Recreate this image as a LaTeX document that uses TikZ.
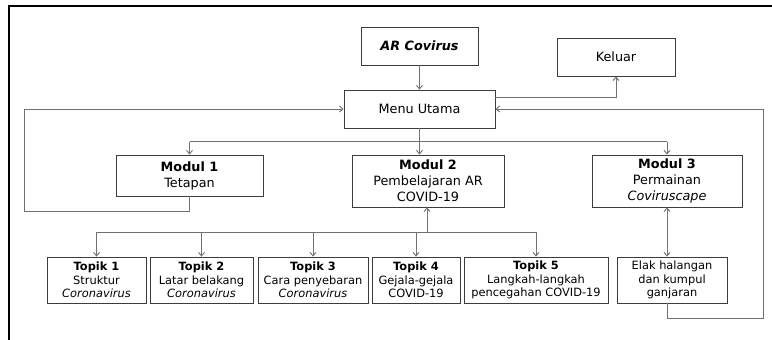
\documentclass[tikz,border=0pt]{standalone}
\usepackage{fontspec}
\setmainfont{DejaVu Sans}
\usetikzlibrary{arrows.meta}
\definecolor{boxgray}{HTML}{3C3C3C}
\definecolor{linkgray}{HTML}{707070}
\tikzset{
  box/.style={draw=boxgray, line width=0.9pt, fill=white, align=center, inner sep=0pt},
  modfont/.style={font=\fontsize{12.8}{16}\selectfont},
  topfont/.style={font=\fontsize{11.4}{13.6}\selectfont},
  link/.style={draw=linkgray, line width=0.9pt},
  conn/.style={link, -{Straight Barb[length=3.5pt,width=6pt]}},
  conntwo/.style={link, {Straight Barb[length=3.5pt,width=6pt]}-{Straight Barb[length=3.5pt,width=6pt]}}
}
\begin{document}
\begin{tikzpicture}[x=1pt,y=-1pt]
\useasboundingbox (0,0) rectangle (772,340);
% outer frame (top and left sides)
\draw[line width=2pt, black] (9,340) -- (9,6) -- (772,6);

% top level
\node[box, modfont, minimum width=117pt, minimum height=38pt] (ar) at (419.5,46) {\textbf{\textit{AR Covirus}}};
\node[box, modfont, minimum width=118pt, minimum height=38pt] (keluar) at (616,57) {Keluar};
\node[box, modfont, minimum width=151pt, minimum height=38pt] (menu) at (419.5,109) {Menu Utama};

% modules
\node[box, modfont, minimum width=147pt, minimum height=41pt] (m1) at (189.5,175.5) {\textbf{Modul 1}\\Tetapan};
\node[box, modfont, minimum width=152pt, minimum height=52pt] (m2) at (428,181) {\textbf{Modul 2}\\Pembelajaran AR\\COVID-19};
\node[box, modfont, minimum width=150pt, minimum height=52pt] (m3) at (667,181) {\textbf{Modul 3}\\Permainan\\\textit{Coviruscape}};

% topics
\node[box, topfont, minimum width=99pt, minimum height=46pt] (t1) at (96.5,280) {\textbf{Topik 1}\\Struktur\\\textit{Coronavirus}};
\node[box, topfont, minimum width=103pt, minimum height=46pt] (t2) at (201.5,280) {\textbf{Topik 2}\\Latar belakang\\\textit{Coronavirus}};
\node[box, topfont, minimum width=110pt, minimum height=46pt] (t3) at (313,280) {\textbf{Topik 3}\\Cara penyebaran\\\textit{Coronavirus}};
\node[box, topfont, minimum width=88pt, minimum height=46pt] (t4) at (416,280) {\textbf{Topik 4}\\Gejala-gejala\\COVID-19};
\node[box, topfont, minimum width=144pt, minimum height=46pt] (t5) at (536,280) {\textbf{Topik 5}\\Langkah-langkah\\pencegahan COVID-19};
\node[box, topfont, minimum width=110pt, minimum height=46pt] (elak) at (672,280) {Elak halangan\\dan kumpul\\ganjaran};

% helper points for the routed lines
\coordinate (busa) at (0,141.5);
\coordinate (busb) at (427,232);
\coordinate (lloop) at (24,211);
\coordinate (rloop) at (763,318);

% start -> main menu -> exit
\draw[conn] (ar) -- (menu);
\draw[conn] ([yshift=12pt]menu.east) -| (keluar.south);

% main menu -> modules
\draw[link] (menu.south) -- (menu.south |- busa);
\draw[link] (m1.north |- busa) -- (m3.north |- busa);
\draw[conn] (m1.north |- busa) -- (m1.north);
\draw[conn] (menu.south |- busa) -- (menu.south |- m2.north);
\draw[conn] (m3.north |- busa) -- (m3.north);

% returns to main menu
\draw[conn] (m1.south) |- (lloop) |- (menu.west);
\draw[conn] (m3.south |- elak.south) |- (rloop) |- (menu.east);

% module 2 topics
\draw[conn] (busb) -- (busb |- m2.south);
\draw[link] (t1.north |- busb) -- (t5.north |- busb);
\foreach \t in {t1,t2,t3,t4,t5}
  \draw[conn] (\t.north |- busb) -- (\t.north);

% module 3 game
\draw[conntwo] (m3.south) -- (m3.south |- elak.north);
\end{tikzpicture}
\end{document}
